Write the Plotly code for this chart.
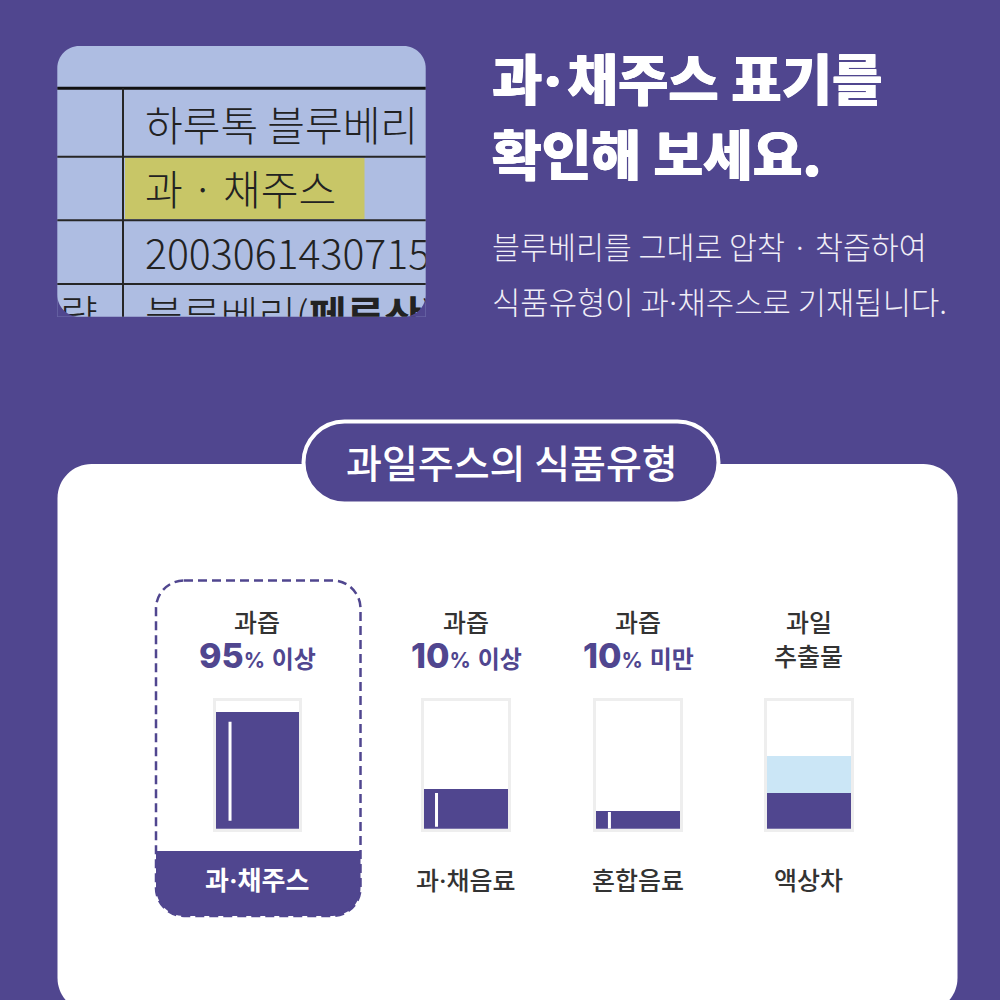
import plotly.graph_objects as go

PURPLE = '#50468f'
KR = 'Noto Sans CJK KR'
NUM = 'Inter, Noto Sans CJK KR'
DOT = '<span style="font-family:Inter">·</span>'

# fill level of each glass, in percent of the glass height
juice_levels = [91.6, 30.9, 14.1, 28.2]
extract_levels = [0, 0, 0, 28.7]
streak_low = [6.3, 1.6, 0]
streak_high = [83.8, 28, 13]
streak_x = [0.174, 0.149, 0.16]

top_labels = ['과즙', '과즙', '과즙', '과일']
sub_numbers = ['95', '10', '10', '']
sub_units = ['이상', '이상', '미만', '']
bottom_labels = [f'과{DOT}채주스', f'과{DOT}채음료', '혼합음료', '액상차']
extract_label = '추출물'

table_rows = ['하루톡 블루베리', '과 · 채주스', '2003061430715', '블루베리(<b>페루산</b>)']
table_side = '량'

title_lines = [f'과{DOT}<span style="font-size:20px"> </span>채주스 표기를', '확인해 보세요.']
body_lines = ['블루베리를 그대로 압착 · 착즙하여', f'식품유형이 과{DOT}채주스로 기재됩니다.']
pill_text = '과일주스의 식품유형'

K = 0.45  # control point offset for the rounded corners


def px(x):
    return x / 1000


def py(y):
    return 1 - y / 1000


def round_path(x0, y0, x1, y1, rt, rb):
    def c(a, b, d, e, f, g):
        return f'C{px(a)},{py(b)} {px(d)},{py(e)} {px(f)},{py(g)} '
    return (
        f'M{px(x0 + rt)},{py(y0)} L{px(x1 - rt)},{py(y0)} '
        + c(x1 - rt * K, y0, x1, y0 + rt * K, x1, y0 + rt)
        + f'L{px(x1)},{py(y1 - rb)} '
        + c(x1, y1 - rb * K, x1 - rb * K, y1, x1 - rb, y1)
        + f'L{px(x0 + rb)},{py(y1)} '
        + c(x0 + rb * K, y1, x0, y1 - rb * K, x0, y1 - rb)
        + f'L{px(x0)},{py(y0 + rt)} '
        + c(x0, y0 + rt * K, x0 + rt * K, y0, x0 + rt, y0)
        + 'Z'
    )


def corner_mask(cx, cy, sx, sy, r):
    # purple wedge outside a rounded corner
    return (
        f'M{px(cx)},{py(cy)} L{px(cx + sx * r)},{py(cy)} '
        f'C{px(cx + sx * r * K)},{py(cy)} {px(cx)},{py(cy + sy * r * K)} {px(cx)},{py(cy + sy * r)} Z'
    )


def paper_shape(path, **kw):
    return dict(type='path', path=path, xref='paper', yref='paper', **kw)


def hline(y, x0, x1, width, color='#262626'):
    return dict(type='line', xref='paper', yref='paper', x0=px(x0), x1=px(x1), y0=py(y), y1=py(y),
                line=dict(color=color, width=width), layer='below')


def note(x, y, text, size, color='#333333', weight=400, family=KR, anchor='center', shadow=None):
    font = dict(family=family, size=size, color=color, weight=weight)
    if shadow:
        font['shadow'] = shadow
    return dict(x=px(x), y=py(y), xref='paper', yref='paper', text=text, showarrow=False,
                xanchor=anchor, yanchor='middle', align=anchor, font=font)


fig = go.Figure()

# glasses, one small subplot each
glass_left = [215.5, 424, 596, 767]
glass_right = [299, 508, 680, 851]
glass_top = 701
glass_bottom = 828.7
centers = [257.3, 466, 638, 808.5]

layout_axes = {}
for i in range(4):
    n = i + 2
    layout_axes[f'xaxis{n}'] = dict(domain=[px(glass_left[i]), px(glass_right[i])], range=[0, 1],
                                    anchor=f'y{n}', showline=True, mirror=True, linecolor='#eeeeee',
                                    linewidth=3, showgrid=False, zeroline=False, ticks='',
                                    showticklabels=False, fixedrange=True)
    layout_axes[f'yaxis{n}'] = dict(domain=[py(glass_bottom), py(glass_top)], range=[0, 100],
                                    anchor=f'x{n}', showline=True, mirror=True, linecolor='#eeeeee',
                                    linewidth=3, showgrid=False, zeroline=False, ticks='',
                                    showticklabels=False, fixedrange=True)
    fig.add_trace(go.Bar(x=[0.5], y=[juice_levels[i]], width=[1], xaxis=f'x{n}', yaxis=f'y{n}',
                         marker=dict(color=PURPLE, line=dict(width=0)), showlegend=False))
    if extract_levels[i]:
        fig.add_trace(go.Bar(x=[0.5], y=[extract_levels[i]], width=[1], xaxis=f'x{n}', yaxis=f'y{n}',
                             marker=dict(color='#cbe6f6', line=dict(width=0)), showlegend=False))
    if i < 3:
        fig.add_trace(go.Scatter(x=[streak_x[i], streak_x[i]], y=[streak_low[i], streak_high[i]],
                                 mode='lines', xaxis=f'x{n}', yaxis=f'y{n}',
                                 line=dict(color='white', width=3), showlegend=False))

# label screenshot text goes in its own subplot so it gets clipped at the edges
layout_axes['xaxis6'] = dict(domain=[px(57.3), px(425.7)], range=[57.3, 425.7], anchor='y6', visible=False,
                             fixedrange=True)
layout_axes['yaxis6'] = dict(domain=[py(316.7), py(46)], range=[316.7, 46], anchor='x6', visible=False,
                             fixedrange=True)
fig.add_trace(go.Scatter(x=[145, 145, 145, 145, 60], y=[131, 195, 259, 321, 320],
                         text=table_rows + [table_side], mode='text', textposition='middle right',
                         cliponaxis=True, xaxis='x6', yaxis='y6', showlegend=False,
                         textfont=dict(family=KR, size=41, color='#222222', weight=300)))

shapes = [
    # label panel
    paper_shape(round_path(57.3, 46, 425.7, 316.7, 22, 0), fillcolor='#aebde2', line=dict(width=0), layer='below'),
    dict(type='rect', xref='paper', yref='paper', x0=px(125), x1=px(364.5), y0=py(158), y1=py(219),
         fillcolor='#c8c667', line=dict(width=0), layer='below'),
    hline(88.3, 57.3, 425.7, 3, '#111111'),
    hline(156.7, 57.3, 425.7, 2),
    hline(220.2, 57.3, 425.7, 2),
    hline(284, 57.3, 425.7, 2),
    dict(type='line', xref='paper', yref='paper', x0=px(123), x1=px(123), y0=py(88.3), y1=py(316.7),
         line=dict(color='#262626', width=2), layer='below'),
    paper_shape(corner_mask(57.3, 316.7, 1, -1, 22), fillcolor=PURPLE, line=dict(width=0), layer='above'),
    paper_shape(corner_mask(425.7, 316.7, -1, -1, 22), fillcolor=PURPLE, line=dict(width=0), layer='above'),
    # white card and pill
    paper_shape(round_path(57.5, 464, 957.5, 1012, 34, 34), fillcolor='white', line=dict(width=0), layer='below'),
    paper_shape(round_path(303.5, 421.5, 718.5, 503.5, 41, 41), fillcolor=PURPLE,
                line=dict(color='white', width=4), layer='below'),
    # highlighted column
    paper_shape(round_path(156, 851, 360.5, 916, 0, 28), fillcolor=PURPLE, line=dict(width=0), layer='below'),
    paper_shape(round_path(156, 580.5, 360.5, 916, 28, 28), fillcolor='rgba(0,0,0,0)',
                line=dict(color=PURPLE, width=2.5, dash='9px,5px'), layer='below'),
]

HEAVY = '0.5px 0 0 white,-0.5px 0 0 white'
annotations = [
    note(490, 75.5, title_lines[0], 54.8, 'white', 900, anchor='left', shadow=HEAVY),
    note(490, 152.5, title_lines[1], 54, 'white', 900, anchor='left', shadow=HEAVY),
    note(490, 245.5, body_lines[0], 30.4, '#f0eef7', 300, anchor='left'),
    note(490, 300.5, body_lines[1], 30.8, '#f0eef7', 300, anchor='left'),
    note(512, 461, pill_text, 39, 'white', 500),
]

for i in range(4):
    annotations.append(note(centers[i], 620.5, top_labels[i], 25, weight=500))
    if sub_numbers[i]:
        rich = (f'<span style="font-size:34px;font-weight:800">{sub_numbers[i]}</span>'
                f'<b style="font-size:21px">%</b> '
                f'<b style="font-size:24px">{sub_units[i]}</b>')
        annotations.append(note(centers[i], 655, rich, 24, PURPLE, 400, NUM))
    else:
        annotations.append(note(centers[i], 655, extract_label, 25, weight=500))
    if i == 0:
        annotations.append(note(centers[i], 878.5, bottom_labels[i], 26, 'white', 700))
    else:
        annotations.append(note(centers[i], 878.5, bottom_labels[i], 25, weight=500))

fig.update_layout(
    width=1000,
    height=1000,
    margin=dict(l=0, r=0, t=0, b=0),
    paper_bgcolor=PURPLE,
    plot_bgcolor='rgba(0,0,0,0)',
    barmode='stack',
    bargap=0,
    showlegend=False,
    shapes=shapes,
    annotations=annotations,
    **layout_axes,
)

fig.write_html('out.html', config=dict(displayModeBar=False),
               post_script="document.body.style.margin='0';document.body.style.overflow='hidden';")
